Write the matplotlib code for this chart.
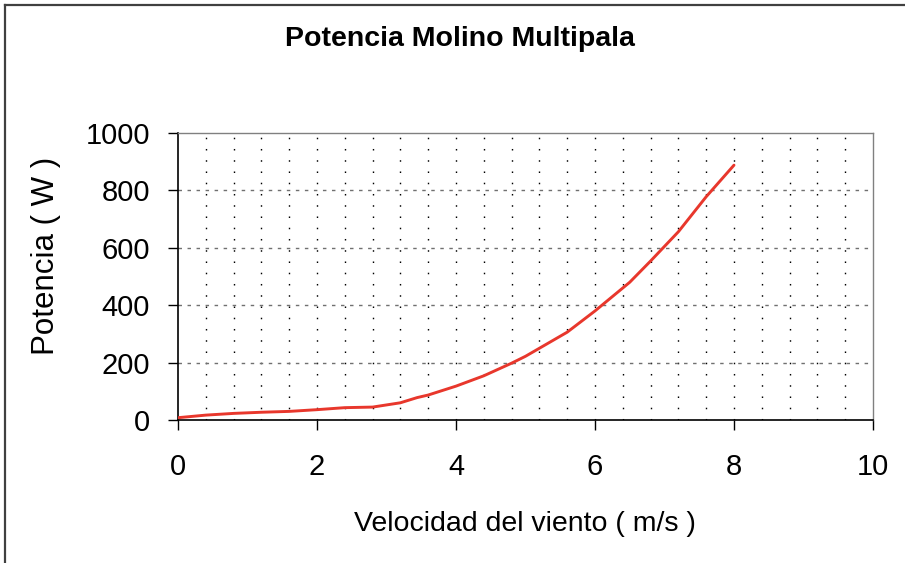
import matplotlib
matplotlib.use("Agg")
import matplotlib.pyplot as plt
from matplotlib.lines import Line2D

plt.rcParams['font.family'] = ['Liberation Sans', 'DejaVu Sans']

# Data
wind_speed = [0, 0.4, 0.8, 1.2, 1.6, 2.0, 2.4, 2.8, 3.2, 3.44, 3.6, 4.0, 4.4,
              4.8, 5.0, 5.35, 5.6, 6.0, 6.5, 6.8, 7.2, 7.6, 8.0]
power = [8, 17, 23, 27, 30, 36, 43, 45, 60, 78, 87, 118, 154,
         198, 222, 271, 306, 380, 480, 554, 656, 778, 888]

x_ticks = [0, 2, 4, 6, 8, 10]
y_ticks = [0, 200, 400, 600, 800, 1000]
x_grid = [0.4 * i for i in range(1, 25)]

title = "Potencia Molino Multipala"
xlabel = "Velocidad del viento ( m/s )"
ylabel = "Potencia ( W )"

W, H = 905, 563
fig = plt.figure(figsize=(W / 100, H / 100), dpi=100)
ax = fig.add_axes([178 / W, (H - 420) / H, (873 - 178) / W, (420 - 133) / H])

# grid
for xv in x_grid:
    ax.axvline(xv, color='black', lw=1.0, ls=(0, (1.1, 7)), zorder=1)
for yv in y_ticks[1:-1]:
    ax.axhline(yv, color='#707070', lw=1.0, ls=(0, (2.5, 4)), zorder=1)

ax.plot(wind_speed, power, color='#e8372c', lw=2.1, zorder=3,
        solid_capstyle='round', solid_joinstyle='round')

ax.set_xlim(0, 10)
ax.set_ylim(0, 1000)
ax.set_xticks(x_ticks)
ax.set_yticks(y_ticks)
ax.set_xticklabels([str(v) for v in x_ticks])
ax.set_yticklabels([str(v) for v in y_ticks])
ax.tick_params(axis='both', direction='out', length=7, width=1, color='black',
               labelsize=21)
ax.tick_params(axis='y', pad=13)
ax.tick_params(axis='x', pad=17)

for s in ['top', 'right']:
    ax.spines[s].set_color('#808080')
    ax.spines[s].set_linewidth(1)
for s in ['left', 'bottom']:
    ax.spines[s].set_color('black')
    ax.spines[s].set_linewidth(1.2)

fig.text(460 / W, (H - 46) / H, title, ha='center', va='baseline',
         fontsize=20.5, fontweight='bold')
fig.text(525 / W, (H - 524) / H, xlabel, ha='center', va='center', fontsize=20.5)
fig.text(46 / W, (H - 256) / H, ylabel, ha='center', va='center',
         rotation=90, fontsize=22.5)

# figure frame (top and left edges visible)
fig.add_artist(Line2D([4.5 / W, 1.0], [1 - 4.5 / H, 1 - 4.5 / H],
                      transform=fig.transFigure, color='#404040', lw=1.6))
fig.add_artist(Line2D([4.5 / W, 4.5 / W], [0.0, 1 - 4.5 / H],
                      transform=fig.transFigure, color='#404040', lw=1.6))

fig.savefig("out.png", dpi=100)
